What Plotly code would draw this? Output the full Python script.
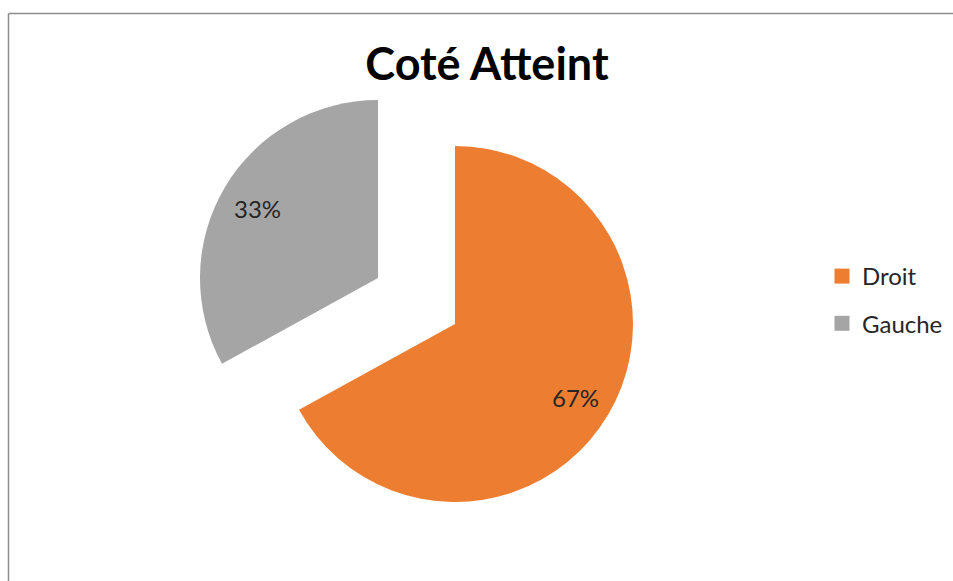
import math
import plotly.graph_objects as go

# Data
categories = ["Droit", "Gauche"]
values = [67, 33]
colors = ["#ED7D31", "#A5A5A5"]
title_text = "Coté Atteint"

W, H = 953, 581
R = 178
centers = [(455, 324), (378, 278)]   # pixel centre of each slice (Gauche exploded)
LABEL_R = 0.785                       # label distance as fraction of the radius


def domain_for(cx, cy, r):
    return dict(x=[(cx - r) / W, (cx + r) / W],
                y=[1 - (cy + r) / H, 1 - (cy - r) / H])


TRANSPARENT = "rgba(0,0,0,0)"
label_font = dict(family="Lato", size=24, color="#262626")

fig = go.Figure()
total = sum(values)
annotations = []
cum = 0.0
for i, (cat, val) in enumerate(zip(categories, values)):
    cols = [TRANSPARENT] * len(categories)
    cols[i] = colors[i]
    cx, cy = centers[i]
    fig.add_trace(go.Pie(
        labels=categories, values=values, sort=False, direction="clockwise", rotation=0,
        marker=dict(colors=cols, line=dict(width=0)),
        textinfo="none", domain=domain_for(cx, cy, R), showlegend=False, hoverinfo="skip",
    ))
    mid = (cum + val / 2) / total * 2 * math.pi
    cum += val
    px = cx + LABEL_R * R * math.sin(mid)
    py = cy - LABEL_R * R * math.cos(mid)
    annotations.append(dict(
        text=f"{round(val / total * 100)}%", x=px / W, y=1 - (py + 2) / H, xref="paper", yref="paper",
        xanchor="center", yanchor="middle", showarrow=False, font=label_font,
    ))

# legend entries
for cat, col in zip(categories, colors):
    fig.add_trace(go.Scatter(
        x=[None], y=[None], mode="markers", name=cat,
        marker=dict(symbol="square", size=15, color=col),
        legendgroup=cat, showlegend=True,
    ))

fig.update_layout(
    width=W, height=H,
    margin=dict(l=0, r=0, t=0, b=0),
    paper_bgcolor="white", plot_bgcolor="white",
    xaxis=dict(visible=False), yaxis=dict(visible=False),
    title=dict(text=title_text, x=487 / W, y=1 - 64 / H, xanchor="center", yanchor="middle",
               xref="paper", yref="paper",
               font=dict(family="Lato", size=45, color="#000000", weight="bold")),
    legend=dict(x=822 / W, y=1 - 254 / H, xanchor="left", yanchor="top",
                font=dict(family="Lato", size=24, color="#262626"),
                traceorder="grouped", tracegroupgap=13, bgcolor="rgba(0,0,0,0)"),
    annotations=annotations,
    shapes=[
        dict(type="line", xref="paper", yref="paper", x0=8.5 / W, x1=1.0, y0=1 - 13.5 / H, y1=1 - 13.5 / H,
             line=dict(color="#8C8C8C", width=1.5)),
        dict(type="line", xref="paper", yref="paper", x0=8.5 / W, x1=8.5 / W, y0=0, y1=1 - 13.5 / H,
             line=dict(color="#8C8C8C", width=1.5)),
    ],
)

fig.write_html("out.html")
